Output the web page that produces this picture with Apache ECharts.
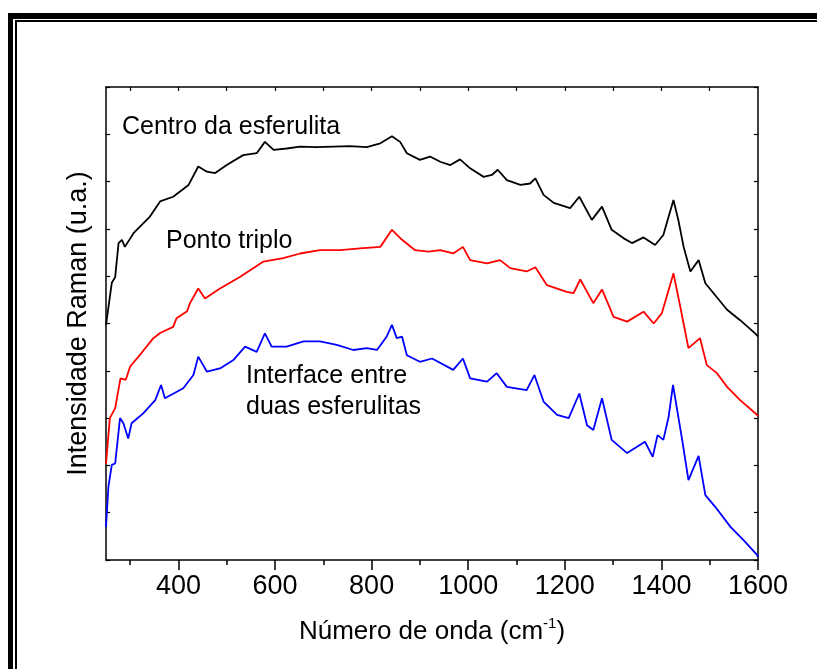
<!DOCTYPE html>
<html>
<head>
<meta charset="utf-8">
<script src="https://cdn.jsdelivr.net/npm/echarts@6/dist/echarts.min.js"></script>
<style>
html, body { margin: 0; padding: 0; background: #fff; }
#chart { width: 817px; height: 669px; }
</style>
</head>
<body>
<div id="chart"></div>
<script>
// números de onda (cm-1) e intensidades (u.a.)
const blackWave = [250,262,269,276,283,289,307,341,362,389,421,441,459,476,500,534,562,579,597,624,652,686,721,755,790,818,842,859,873,900,921,942,963,983,1004,1032,1049,1061,1080,1108,1128,1139,1156,1177,1211,1230,1256,1277,1297,1322,1339,1363,1387,1404,1415,1425,1435,1446,1460,1477,1491,1508,1536,1563,1594,1600]
const blackInt = [49.7,58.6,59.8,67.0,67.7,66.2,69.1,72.6,75.8,76.8,79.3,83.2,82.1,81.8,83.5,85.6,86.0,88.4,86.7,87.0,87.4,87.3,87.4,87.5,87.3,88.1,89.6,88.4,86.0,84.6,85.3,84.2,83.5,84.7,82.8,81.0,81.4,82.5,80.3,79.3,79.6,80.7,77.2,75.5,74.4,76.8,71.9,74.7,69.8,68.0,67.0,68.2,66.6,68.7,72.6,76.1,71.9,66.2,61.0,63.4,58.5,56.4,52.9,50.7,47.9,47.3]

const redWave = [250,258,269,280,291,300,323,348,362,389,396,418,424,441,455,486,528,576,617,652,693,735,776,818,842,863,890,918,942,969,989,1004,1039,1066,1087,1121,1139,1163,1204,1218,1232,1259,1277,1301,1329,1363,1384,1401,1415,1425,1439,1456,1480,1494,1515,1536,1563,1598,1600]
const redInt = [20.3,30.0,32.1,38.4,38.1,40.9,43.7,46.9,48.0,49.3,51.1,52.6,54.3,57.4,55.3,57.4,59.9,63.1,63.8,64.8,65.5,65.5,65.9,66.2,69.8,67.7,65.5,65.2,65.5,64.8,66.2,63.4,62.7,63.4,61.7,61.0,61.9,58.1,56.7,56.4,59.3,54.3,57.2,51.4,50.4,52.5,50.0,52.2,57.1,60.6,53.6,44.8,46.9,41.2,39.5,36.6,33.8,30.7,30.4]

const blueWave = [250,255,262,269,279,286,296,303,327,352,364,372,410,431,441,459,486,514,538,562,579,593,624,659,693,728,762,790,811,831,842,852,863,873,900,925,969,989,1004,1039,1059,1080,1121,1137,1156,1184,1208,1230,1246,1259,1277,1297,1329,1366,1382,1392,1404,1415,1424,1443,1456,1477,1491,1511,1543,1570,1598,1600]
const blueInt = [7.0,15.5,20.1,20.4,30.0,28.9,25.7,28.9,31.0,33.8,37.0,34.2,36.3,39.1,43.0,39.8,40.5,42.3,45.1,44.0,47.9,45.1,45.1,46.2,46.2,45.5,44.4,44.8,44.4,47.2,49.7,46.9,47.2,43.3,41.9,42.6,40.2,42.6,38.4,37.7,39.5,36.6,35.9,39.1,33.5,30.7,30.0,35.2,28.5,27.5,34.2,25.4,22.6,25.0,21.8,26.4,25.4,30.3,37.0,25.4,16.9,22.0,13.7,11.3,7.0,4.2,1.1,0.6]

// ticks do eixo x
const majorTicks = [400, 600, 800, 1000, 1200, 1400, 1600]
const minorTicks = [300, 500, 700, 900, 1100, 1300, 1500]
const topTicks = [300, 400, 500, 600, 700, 800, 900, 1000, 1100, 1200, 1300, 1400, 1500]

const seriesNames = ['Centro da esferulita', 'Ponto triplo', 'Interface entre duas esferulitas']

const FONT = '"Liberation Sans", Arial, Helvetica, sans-serif'

const toPairs = (xs, ys) => xs.map((x, i) => [x, ys[i]])

const chart = echarts.init(document.getElementById('chart'))

const baseX = {
    type: 'value',
    min: 250,
    max: 1600,
    splitLine: { show: false },
    axisLine: { show: false },
    axisTick: { show: false },
    axisLabel: { show: false }
}
const baseY = {
    type: 'value',
    min: 0,
    max: 100,
    interval: 10,
    splitLine: { show: false },
    axisLabel: { show: false },
    axisLine: { show: true, lineStyle: { color: '#000', width: 1.5 } },
    axisTick: { show: true, inside: true, length: 4, lineStyle: { color: '#000', width: 1.2 } }
}

const option = {
    backgroundColor: '#fff',
    animation: false,
    grid: { left: 106, right: 59, top: 87, bottom: 109 },
    xAxis: [
        {
            ...baseX,
            position: 'bottom',
            axisLine: { show: true, lineStyle: { color: '#000', width: 1.5 } },
            axisTick: { show: true, length: 10, customValues: majorTicks, lineStyle: { color: '#000', width: 1.5 } },
            axisLabel: {
                show: true,
                customValues: majorTicks,
                formatter: v => String(v),
                color: '#000',
                fontSize: 27,
                fontFamily: FONT,
                margin: 13
            },
            name: '{a|Número de onda (cm}{sup|-1}{a|)}',
            nameLocation: 'middle',
            nameGap: 56,
            nameTextStyle: {
                color: '#000',
                fontFamily: FONT,
                rich: {
                    a: { fontSize: 26, lineHeight: 32, fontFamily: FONT, color: '#000' },
                    sup: { fontSize: 15, lineHeight: 15, verticalAlign: 'top', fontFamily: FONT, color: '#000' }
                }
            }
        },
        {
            ...baseX,
            position: 'bottom',
            axisTick: { show: true, length: 5, customValues: minorTicks, lineStyle: { color: '#000', width: 1.5 } }
        },
        {
            ...baseX,
            position: 'top',
            axisLine: { show: true, lineStyle: { color: '#000', width: 1.5 } },
            axisTick: { show: true, inside: true, length: 4, customValues: topTicks, lineStyle: { color: '#000', width: 1.2 } }
        }
    ],
    yAxis: [
        {
            ...baseY,
            position: 'left',
            name: 'Intensidade Raman (u.a.)',
            nameLocation: 'middle',
            nameGap: 14,
            nameTextStyle: { color: '#000', fontSize: 27, fontFamily: FONT }
        },
        { ...baseY, position: 'right' }
    ],
    series: [
        {
            name: seriesNames[0],
            type: 'line',
            data: toPairs(blackWave, blackInt),
            showSymbol: false,
            lineStyle: { color: '#000000', width: 1.8 },
            z: 3
        },
        {
            name: seriesNames[1],
            type: 'line',
            data: toPairs(redWave, redInt),
            showSymbol: false,
            lineStyle: { color: '#ff0000', width: 1.8 },
            z: 3
        },
        {
            name: seriesNames[2],
            type: 'line',
            data: toPairs(blueWave, blueInt),
            showSymbol: false,
            lineStyle: { color: '#0000ff', width: 1.8 },
            z: 3
        }
    ],
    graphic: [
        // moldura dupla (superior e esquerda)
        { type: 'rect', shape: { x: 8, y: 13, width: 809, height: 6 }, style: { fill: '#000' } },
        { type: 'rect', shape: { x: 8, y: 13, width: 5, height: 656 }, style: { fill: '#000' } },
        { type: 'rect', shape: { x: 15, y: 20, width: 802, height: 2 }, style: { fill: '#000' } },
        { type: 'rect', shape: { x: 15, y: 20, width: 2, height: 649 }, style: { fill: '#000' } },
        // rótulos das curvas
        {
            type: 'text', z: 10,
            style: { text: 'Centro da esferulita', x: 122, y: 127, font: '25px ' + FONT, fill: '#000', align: 'left', verticalAlign: 'middle' }
        },
        {
            type: 'text', z: 10,
            style: { text: 'Ponto triplo', x: 166, y: 241, font: '25px ' + FONT, fill: '#000', align: 'left', verticalAlign: 'middle' }
        },
        {
            type: 'text', z: 10,
            style: { text: 'Interface entre\nduas esferulitas', x: 246, y: 392, font: '25px ' + FONT, lineHeight: 31, fill: '#000', align: 'left', verticalAlign: 'middle' }
        }
    ]
}

chart.setOption(option)
</script>
</body>
</html>
